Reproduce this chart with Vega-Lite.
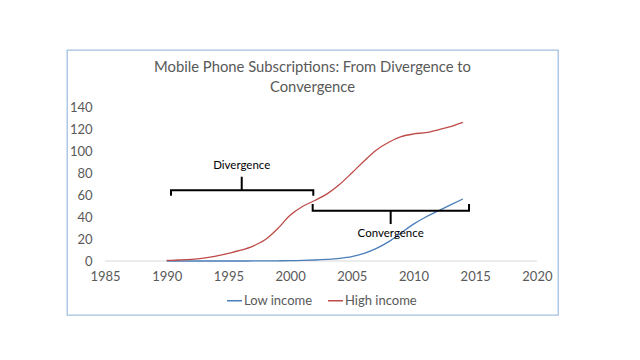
{
  "$schema": "https://vega.github.io/schema/vega-lite/v6.json",
  "width": 491,
  "height": 265,
  "autosize": {"type": "none"},
  "padding": {"left": 67, "top": 50, "right": 82, "bottom": 45},
  "background": "white",
  "title": {
    "text": ["Mobile Phone Subscriptions: From Divergence to", "Convergence"],
    "anchor": "middle",
    "frame": "group",
    "orient": "top",
    "offset": -45,
    "font": "Lato",
    "fontSize": 14.8,
    "fontWeight": "normal",
    "color": "#595959",
    "lineHeight": 20
  },
  "datasets": {
    "series": [
      {"year": 1990, "income": "Low income", "value": 0},
      {"year": 1991, "income": "Low income", "value": 0},
      {"year": 1992, "income": "Low income", "value": 0},
      {"year": 1993, "income": "Low income", "value": 0},
      {"year": 1994, "income": "Low income", "value": 0},
      {"year": 1995, "income": "Low income", "value": 0},
      {"year": 1996, "income": "Low income", "value": 0},
      {"year": 1997, "income": "Low income", "value": 0.05},
      {"year": 1998, "income": "Low income", "value": 0.1},
      {"year": 1999, "income": "Low income", "value": 0.2},
      {"year": 2000, "income": "Low income", "value": 0.3},
      {"year": 2001, "income": "Low income", "value": 0.5},
      {"year": 2002, "income": "Low income", "value": 0.9},
      {"year": 2003, "income": "Low income", "value": 1.5},
      {"year": 2004, "income": "Low income", "value": 2.4},
      {"year": 2005, "income": "Low income", "value": 4},
      {"year": 2006, "income": "Low income", "value": 7},
      {"year": 2007, "income": "Low income", "value": 11.5},
      {"year": 2008, "income": "Low income", "value": 17.6},
      {"year": 2009, "income": "Low income", "value": 25.5},
      {"year": 2010, "income": "Low income", "value": 33.5},
      {"year": 2011, "income": "Low income", "value": 40},
      {"year": 2012, "income": "Low income", "value": 45.5},
      {"year": 2013, "income": "Low income", "value": 51},
      {"year": 2014, "income": "Low income", "value": 56.4},
      {"year": 1990, "income": "High income", "value": 0.5},
      {"year": 1991, "income": "High income", "value": 0.9},
      {"year": 1992, "income": "High income", "value": 1.5},
      {"year": 1993, "income": "High income", "value": 2.7},
      {"year": 1994, "income": "High income", "value": 4.5},
      {"year": 1995, "income": "High income", "value": 7},
      {"year": 1996, "income": "High income", "value": 9.8},
      {"year": 1997, "income": "High income", "value": 13.6},
      {"year": 1998, "income": "High income", "value": 19.5},
      {"year": 1999, "income": "High income", "value": 29.5},
      {"year": 2000, "income": "High income", "value": 41.5},
      {"year": 2001, "income": "High income", "value": 49.5},
      {"year": 2002, "income": "High income", "value": 55},
      {"year": 2003, "income": "High income", "value": 61},
      {"year": 2004, "income": "High income", "value": 69.5},
      {"year": 2005, "income": "High income", "value": 80},
      {"year": 2006, "income": "High income", "value": 91},
      {"year": 2007, "income": "High income", "value": 101},
      {"year": 2008, "income": "High income", "value": 108},
      {"year": 2009, "income": "High income", "value": 113},
      {"year": 2010, "income": "High income", "value": 115.5},
      {"year": 2011, "income": "High income", "value": 116.8},
      {"year": 2012, "income": "High income", "value": 119.3},
      {"year": 2013, "income": "High income", "value": 122.2},
      {"year": 2014, "income": "High income", "value": 126}
    ],
    "baseline": [
      {"year": 1985, "value": 0},
      {"year": 2020, "value": 0}
    ],
    "brackets": [
      {"part": "div-main", "order": 1, "year": 1990.35, "value": 59.4},
      {"part": "div-main", "order": 2, "year": 1990.35, "value": 64.3},
      {"part": "div-main", "order": 3, "year": 2001.88, "value": 64.3},
      {"part": "div-main", "order": 4, "year": 2001.88, "value": 59.4},
      {"part": "div-tick", "order": 1, "year": 1996.08, "value": 64.3},
      {"part": "div-tick", "order": 2, "year": 1996.08, "value": 76.6},
      {"part": "con-main", "order": 1, "year": 2001.83, "value": 51.8},
      {"part": "con-main", "order": 2, "year": 2001.83, "value": 45.7},
      {"part": "con-main", "order": 3, "year": 2014.5, "value": 45.7},
      {"part": "con-main", "order": 4, "year": 2014.5, "value": 51.8},
      {"part": "con-tick", "order": 1, "year": 2008.15, "value": 45.7},
      {"part": "con-tick", "order": 2, "year": 2008.15, "value": 33.6}
    ],
    "notes": [
      {"label": "Divergence", "year": 1996.08, "value": 86.6},
      {"label": "Convergence", "year": 2008.15, "value": 24.3}
    ]
  },
  "encoding": {
    "x": {
      "field": "year", "type": "quantitative",
      "scale": {"domain": [1981.92, 2021.71], "nice": false, "zero": false},
      "axis": {
        "values": [1985, 1990, 1995, 2000, 2005, 2010, 2015, 2020],
        "format": "d", "title": null, "domain": false, "ticks": false, "grid": false,
        "offset": -54, "labelPadding": 9, "labelFont": "Lato", "labelFontSize": 13,
        "labelColor": "#595959", "labelFlush": false, "labelOverlap": false
      }
    },
    "y": {
      "field": "value", "type": "quantitative",
      "scale": {"domain": [-49.09, 191.82], "nice": false, "zero": false},
      "axis": {
        "values": [0, 20, 40, 60, 80, 100, 120, 140],
        "title": null, "domain": false, "ticks": false, "grid": false,
        "offset": -27, "labelPadding": 2, "labelFont": "Lato", "labelFontSize": 13,
        "labelColor": "#595959", "labelOverlap": false, "labelFlush": false
      }
    }
  },
  "layer": [
    {
      "data": {"name": "baseline"},
      "mark": {"type": "line", "color": "#d9d9d9", "strokeWidth": 1},
      "encoding": {}
    },
    {
      "data": {"name": "series"},
      "mark": {"type": "line", "strokeWidth": 1.3, "interpolate": "monotone"},
      "encoding": {
        "color": {
          "field": "income", "type": "nominal",
          "scale": {"domain": ["Low income", "High income"], "range": ["#4a7ebb", "#be4b48"]},
          "legend": {
            "title": null, "orient": "none", "direction": "horizontal",
            "legendX": 159, "legendY": 242,
            "symbolType": "stroke", "symbolSize": 225, "symbolStrokeWidth": 1.5,
            "labelFont": "Lato", "labelFontSize": 13, "labelColor": "#595959",
            "labelOffset": 1, "columnPadding": 12
          }
        }
      }
    },
    {
      "data": {"name": "brackets"},
      "mark": {"type": "line", "color": "black", "strokeWidth": 2, "interpolate": "linear"},
      "encoding": {
        "detail": {"field": "part", "type": "nominal"},
        "order": {"field": "order", "type": "quantitative"}
      }
    },
    {
      "data": {"name": "notes"},
      "mark": {"type": "text", "font": "Lato", "fontSize": 11.5, "color": "black", "align": "center", "baseline": "middle"},
      "encoding": {
        "text": {"field": "label", "type": "nominal"}
      }
    }
  ],
  "config": {
    "view": {"stroke": "#a3c0e0", "strokeWidth": 1.3},
    "axis": {"labelOverlap": false}
  }
}
